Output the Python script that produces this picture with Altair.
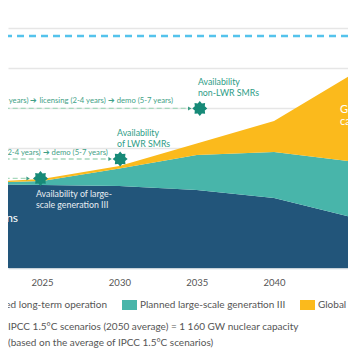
import math
import altair as alt
import pandas as pd

FONT = "Lato"

# ---- data ----
years = [2020, 2025, 2030, 2035, 2040, 2045, 2050]
lto = [420, 415, 410, 390, 350, 255, 160]          # GW, long-term operation
gen3 = [5, 20, 88, 175, 230, 278, 300]             # GW, planned large-scale gen III
needed = [0, 10, 12, 57, 155, 433, 650]            # GW, global nuclear capacity needed

series = ["Existing fleet and planned long-term operation",
          "Planned large-scale generation III",
          "Global nuclear capacity needed"]
colors = ["#22557a", "#48b5aa", "#fbba1c"]

ipcc_target = 1160
grid_values = [200, 400, 600, 800, 1000, 1200]
tick_years = [2025, 2030, 2035, 2040, 2045]

ms_labels = ["Availability\nnon-LWR SMRs", "Availability\nof LWR SMRs",
             "Availability of large-\nscale generation III"]
ms_year = [2035.2, 2030.05, 2024.9]
ms_gw = [798, 545, 448]
arrow_year = [2034.55, 2029.4, 2024.1]
line_start = 2020
label_year = [2035.08, 2029.85, 2024.61]
label_gw = [930, 675, 370]
label_col = ["#2e9c86", "#2e9c86", "#e9eef2"]

timeline_text = ["7-10 years) \u2794 licensing (2-4 years) \u2794 demo (5-7 years)",
                 "ing (2-4 years) \u2794 demo (5-7 years)"]
timeline_year = [2033.47, 2029.26]
timeline_gw = [835, 575]

legend_bottom = ["IPCC 1.5\u00b0C scenarios (2050 average) = 1 160 GW nuclear capacity",
                 "(based on the average of IPCC 1.5\u00b0C scenarios)"]

# ---- tables ----
rows = []
for k, (name, vals) in enumerate(zip(series, [lto, gen3, needed])):
    for y, v in zip(years, vals):
        rows.append({"year": y, "gw": v, "series": name, "k": k})
df = pd.DataFrame(rows)

xs = alt.Scale(domain=[2022.8, 2044.78], nice=False, zero=False)
ys = alt.Scale(domain=[0, 1300], nice=False)

areas = alt.Chart(df).mark_area(clip=True, interpolate="linear").encode(
    x=alt.X("year:Q", scale=xs,
            axis=alt.Axis(values=tick_years, format="d", title=None, ticks=False,
                          labelPadding=9, labelFontSize=9.5, labelColor="#555555",
                          labelFont=FONT, domainColor="#c8d2d9", domainWidth=1.5,
                          grid=False, labelFlush=False, labelOverlap=False)),
    y=alt.Y("gw:Q", stack="zero", scale=ys,
            axis=alt.Axis(values=grid_values, labels=False, ticks=False, domain=False,
                          title=None, gridColor="#e6e6e6", gridWidth=1.5)),
    color=alt.Color("series:N", scale=alt.Scale(domain=series, range=colors), legend=None),
    order=alt.Order("k:Q"),
)

target = alt.Chart(pd.DataFrame({"gw": [ipcc_target]})).mark_rule(
    color="#55c3ec", strokeWidth=2.5, strokeDash=[7, 5]).encode(y=alt.Y("gw:Q", scale=ys))

ms = pd.DataFrame({"year": ms_year, "gw": ms_gw, "ay": arrow_year,
                   "x0": [line_start] * 3, "label": ms_labels,
                   "ly": label_year, "lg": label_gw, "c": label_col})

dashes = alt.Chart(ms).mark_rule(clip=True, color="#a8d8bd", strokeWidth=1.3,
                                 strokeDash=[5, 3]).encode(
    x=alt.X("x0:Q", scale=xs), x2="ay:Q", y=alt.Y("gw:Q", scale=ys))

arrows = alt.Chart(ms).mark_point(shape="triangle-right", filled=True, size=16,
                                  color="#3a9c84", opacity=1).encode(
    x=alt.X("ay:Q", scale=xs), y=alt.Y("gw:Q", scale=ys))

pts = []
for i in range(16):
    r = 1.0 if i % 2 == 0 else 0.72
    a = -math.pi / 2 + i * math.pi / 8
    pts.append(f"{r * math.cos(a):.3f},{r * math.sin(a):.3f}")
star_path = "M" + "L".join(pts) + "Z"

stars = alt.Chart(ms).mark_point(shape=star_path, filled=True, size=225,
                                 color="#178a78", opacity=1, strokeWidth=0).encode(
    x=alt.X("year:Q", scale=xs), y=alt.Y("gw:Q", scale=ys))

ms_text = alt.Chart(ms).mark_text(align="left", baseline="middle", lineBreak="\n",
                                  lineHeight=11, fontSize=8.8, font=FONT).encode(
    x=alt.X("ly:Q", scale=xs), y=alt.Y("lg:Q", scale=ys), text="label:N",
    color=alt.Color("c:N", scale=None))

tl = pd.DataFrame({"t": timeline_text, "year": timeline_year, "gw": timeline_gw})
tl_text = alt.Chart(tl).mark_text(align="right", baseline="middle", fontSize=7.7,
                                  font=FONT, color="#3f9f86").encode(
    x=alt.X("year:Q", scale=xs), y=alt.Y("gw:Q", scale=ys), text="t:N")

area_lab = pd.DataFrame({"t": ["ns", "Global\ncapacity"], "year": [2023.45, 2044.26],
                         "gw": [250, 790]})
lab_left = alt.Chart(area_lab.iloc[[0]]).mark_text(
    align="right", baseline="middle", fontSize=12, font=FONT, color="#ffffff").encode(
    x=alt.X("year:Q", scale=xs), y=alt.Y("gw:Q", scale=ys), text="t:N")
lab_right = alt.Chart(area_lab.iloc[[1]]).mark_text(
    align="left", baseline="middle", fontSize=11, font=FONT, color="#ffffff",
    lineBreak="\n", lineHeight=12).encode(
    x=alt.X("year:Q", scale=xs), y=alt.Y("gw:Q", scale=ys), text="t:N")

# ---- legend (manual, below the plot) ----
one = pd.DataFrame({"a": [0]})
leg = []
leg.append(alt.Chart(one).mark_text(align="right", baseline="middle", fontSize=10,
                                    font=FONT, color="#555555", text=series[0]).encode(
    x=alt.value(99), y=alt.value(297)))
for i, (x0, tx) in enumerate([(114, 132), (292, 310)]):
    leg.append(alt.Chart(one).mark_rect(color=colors[i + 1]).encode(
        x=alt.value(x0), x2=alt.value(x0 + 15), y=alt.value(292), y2=alt.value(302)))
    leg.append(alt.Chart(one).mark_text(align="left", baseline="middle", fontSize=10,
                                        font=FONT, color="#555555",
                                        text=series[i + 1]).encode(
        x=alt.value(tx), y=alt.value(297)))
for j, t in enumerate(legend_bottom):
    leg.append(alt.Chart(one).mark_text(align="left", baseline="middle", fontSize=10,
                                        font=FONT, color="#555555", text=t).encode(
        x=alt.value(0), y=alt.value(319 + 16 * j)))

chart = alt.layer(areas, target, dashes, arrows, stars, ms_text, tl_text,
                  lab_left, lab_right, *leg).properties(
    width=340, height=260,
    padding={"left": 0, "top": 0, "right": 0, "bottom": 88},
    autosize=alt.AutoSizeParams(type="none"),
    background="#ffffff",
).configure_view(stroke=None)

chart.save("out.html", embed_options={"renderer": "svg", "actions": False})
